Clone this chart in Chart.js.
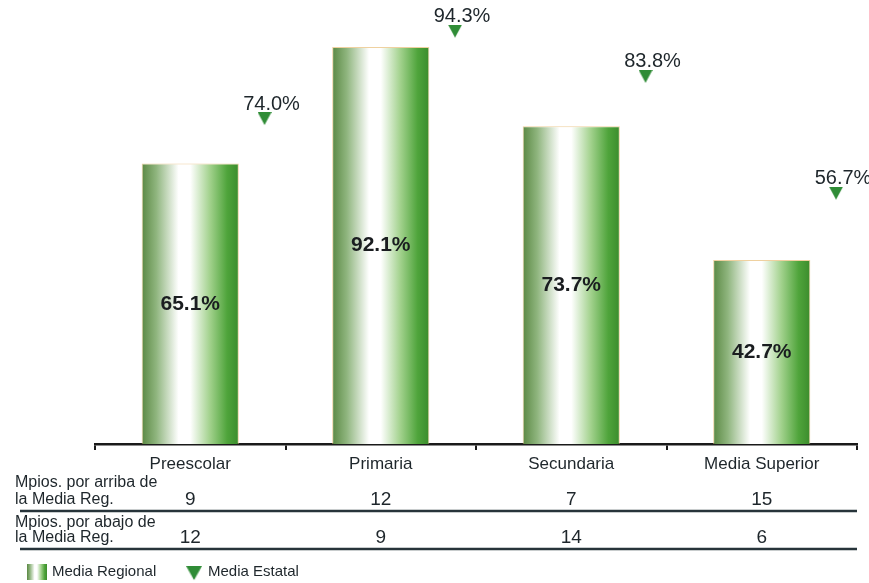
<!DOCTYPE html>
<html>
<head>
<meta charset="utf-8">
<script src="https://cdn.jsdelivr.net/npm/chart.js@4"></script>
<style>
  html, body { margin: 0; padding: 0; background: #fff; }
  #wrap { width: 869px; height: 583px; position: relative; }
</style>
</head>
<body>
<div id="wrap"><canvas id="chart" width="869" height="583"></canvas></div>
<script>
const categories = ['Preescolar', 'Primaria', 'Secundaria', 'Media Superior'];
const mediaRegional = [65.1, 92.1, 73.7, 42.7];
const mediaEstatal = [74.0, 94.3, 83.8, 56.7];
const mpiosArriba = [9, 12, 7, 15];
const mpiosAbajo = [12, 9, 14, 6];
const rowLabels = [
    ['Mpios. por arriba de', 'la Media Reg.'],
    ['Mpios. por abajo de', 'la Media Reg.']
];
const legendLabels = ['Media Regional', 'Media Estatal'];

const FONT = "'Liberation Sans', Arial, sans-serif";
const TEXT = '#1e262b';
const TRI_GREEN = '#2f8c36';
const BAR_PCT = 0.51;
const MARKER_OFFSET = 0.39; // triangle sits to the right of each bar

function addStops(g) {
    g.addColorStop(0, '#5a8843');
    g.addColorStop(0.15, '#8fb57e');
    g.addColorStop(0.38, '#ffffff');
    g.addColorStop(0.5, '#ffffff');
    g.addColorStop(0.7, '#a3d28e');
    g.addColorStop(0.88, '#4fa43b');
    g.addColorStop(1, '#3b8c2c');
    return g;
}

function barGradient(ctx) {
    const chart = ctx.chart;
    const xs = chart.scales.x;
    if (!xs || !chart.chartArea) return '#5a9a40';
    const cx = xs.getPixelForValue(ctx.dataIndex);
    const w = (xs.width / categories.length) * BAR_PCT;
    return addStops(chart.ctx.createLinearGradient(cx - w / 2, 0, cx + w / 2, 0));
}

// down-pointing triangle whose tip is at the image centre
function makeTriangle(w, h) {
    const c = document.createElement('canvas');
    c.width = w;
    c.height = h * 2;
    const t = c.getContext('2d');
    t.fillStyle = TRI_GREEN;
    t.beginPath();
    t.moveTo(0, 0);
    t.lineTo(w, 0);
    t.lineTo(w / 2, h);
    t.closePath();
    t.fill();
    return c;
}
const triangle = makeTriangle(14, 13);

const extras = {
    id: 'extras',
    afterDatasetsDraw(chart) {
        const ctx = chart.ctx;
        const xs = chart.scales.x;
        ctx.save();

        // values inside the bars
        const bars = chart.getDatasetMeta(0).data;
        ctx.font = 'bold 21px ' + FONT;
        ctx.fillStyle = '#1a1d20';
        ctx.textAlign = 'center';
        ctx.textBaseline = 'middle';
        bars.forEach((b, i) => {
            ctx.fillText(mediaRegional[i].toFixed(1) + '%', b.x, (b.y + b.base) / 2);
        });

        // labels above the triangles
        const pts = chart.getDatasetMeta(1).data;
        ctx.font = '20px ' + FONT;
        ctx.fillStyle = TEXT;
        pts.forEach((p, i) => {
            ctx.fillText(mediaEstatal[i].toFixed(1) + '%', p.x + 7, p.y - 21);
        });

        // table under the axis
        ctx.textAlign = 'left';
        ctx.font = '16px ' + FONT;
        ctx.fillStyle = TEXT;
        ctx.fillText(rowLabels[0][0], 15, 483);
        ctx.fillText(rowLabels[0][1], 15, 500);
        ctx.fillText(rowLabels[1][0], 15, 523);
        ctx.fillText(rowLabels[1][1], 15, 538);

        ctx.textAlign = 'center';
        ctx.font = '19px ' + FONT;
        categories.forEach((c, i) => {
            const x = xs.getPixelForValue(i);
            ctx.fillText(String(mpiosArriba[i]), x, 500);
            ctx.fillText(String(mpiosAbajo[i]), x, 538);
        });

        ctx.strokeStyle = '#27343a';
        ctx.lineWidth = 2.5;
        [511, 549].forEach(y => {
            ctx.beginPath();
            ctx.moveTo(20, y);
            ctx.lineTo(xs.right, y);
            ctx.stroke();
        });

        // legend
        ctx.fillStyle = addStops(ctx.createLinearGradient(27, 0, 47, 0));
        ctx.fillRect(27, 564, 20, 16);
        ctx.drawImage(triangle, 186, 566, 16, 28);
        ctx.font = '15px ' + FONT;
        ctx.fillStyle = TEXT;
        ctx.textAlign = 'left';
        ctx.fillText(legendLabels[0], 52, 572);
        ctx.fillText(legendLabels[1], 208, 572);

        ctx.restore();
    }
};

new Chart(document.getElementById('chart'), {
    data: {
        labels: categories,
        datasets: [
            {
                type: 'bar',
                label: legendLabels[0],
                data: mediaRegional,
                backgroundColor: barGradient,
                borderColor: 'rgba(232, 190, 120, 0.7)',
                borderWidth: { top: 1, left: 1, right: 1, bottom: 0 },
                grouped: false,
                barPercentage: BAR_PCT,
                categoryPercentage: 1
            },
            {
                type: 'scatter',
                label: legendLabels[1],
                xAxisID: 'x2',
                data: mediaEstatal.map((v, i) => ({ x: i + MARKER_OFFSET, y: v })),
                pointStyle: triangle,
                pointRadius: 7,
                showLine: false
            }
        ]
    },
    options: {
        responsive: false,
        animation: false,
        layout: { padding: { left: 95, right: 12, top: 13, bottom: 0 } },
        plugins: {
            legend: { display: false },
            tooltip: { enabled: false }
        },
        scales: {
            x: {
                type: 'category',
                offset: true,
                grid: {
                    display: true,
                    offset: true,
                    drawOnChartArea: false,
                    drawTicks: true,
                    tickLength: 6,
                    color: '#1a1a1a',
                    lineWidth: 2
                },
                border: { display: true, color: '#1a1a1a', width: 2.5 },
                ticks: {
                    color: TEXT,
                    font: { family: FONT, size: 17 },
                    padding: 4,
                    maxRotation: 0
                },
                afterFit(scale) { scale.height = 139; }
            },
            x2: {
                type: 'linear',
                display: false,
                min: -0.5,
                max: categories.length - 0.5
            },
            y: {
                display: false,
                min: 0,
                max: 100
            }
        }
    },
    plugins: [extras]
});
</script>
</body>
</html>
